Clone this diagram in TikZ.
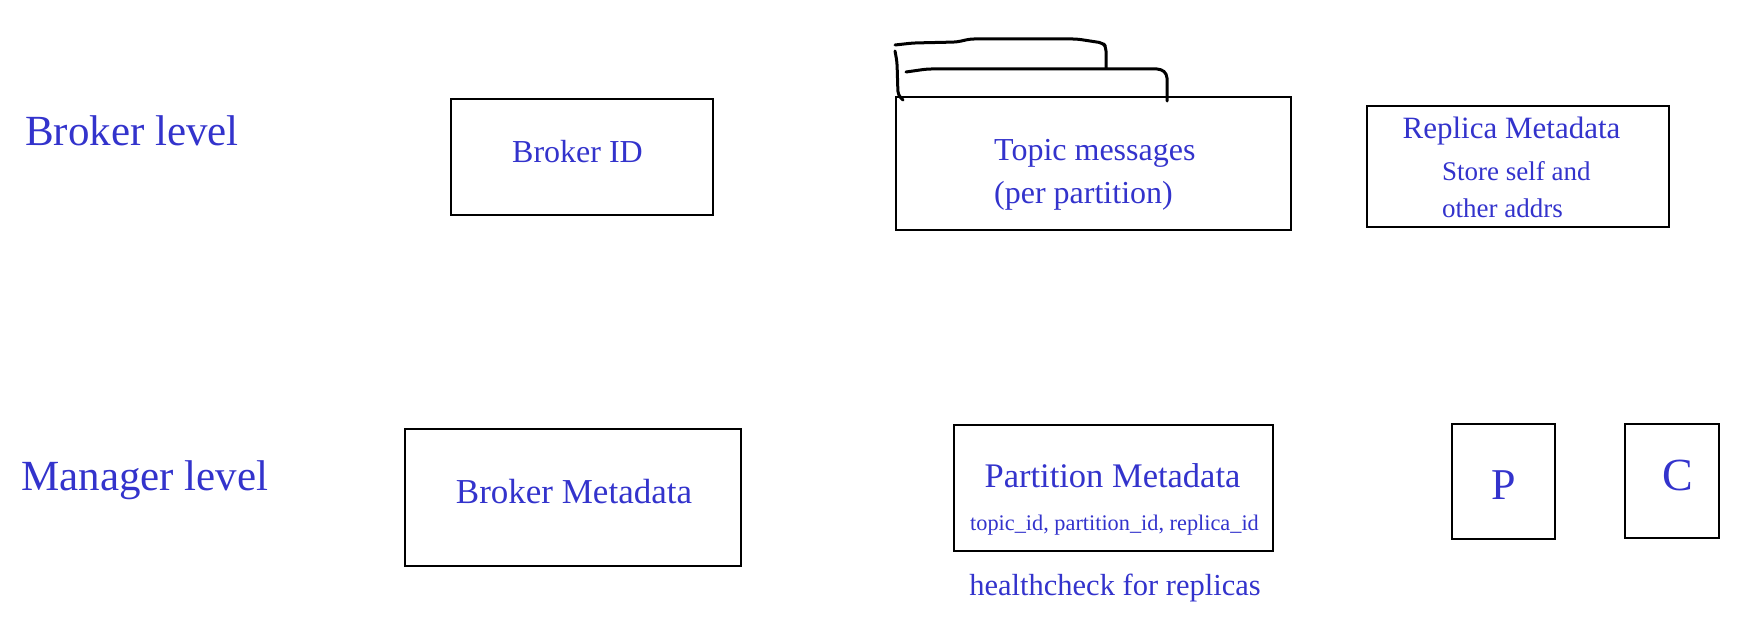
\documentclass[tikz,border=0pt]{standalone}
\usepackage{fontspec}
\setmainfont{Liberation Serif}
\usetikzlibrary{positioning}
\definecolor{penblue}{RGB}{51,51,204}
\tikzset{
    box/.style={draw, line width=2.6pt, inner sep=0}, % plain boxes
    lbl/.style={text=penblue, inner sep=0, font=\fontsize{#1}{#1}\selectfont}, % blue texts
    pen/.style={draw, line width=3pt, line cap=round, line join=round, rounded corners=4pt} % hand-drawn tabs
}

\begin{document}
\begin{tikzpicture}[x=1pt, y=-1pt]
        \useasboundingbox (0,0) rectangle (1761,618);

        % broker level
        \node[lbl=43, anchor=base west] (brokerlevel) at (25,145) {Broker level};
        \node[box, minimum width=262pt, minimum height=116pt] (brokerid) at (582,157) {};
        \node[lbl=32, anchor=base] (brokeridtext) at (577.5,162) {Broker ID};

        \node[box, minimum width=395pt, minimum height=133pt] (topic) at (1093.5,163.5) {};
        \node[lbl=32, anchor=base west] (topictext) at (994,160) {Topic messages};
        \node[lbl=32, anchor=base west] (topictext2) at (994,203) {(per partition)};
        \draw[pen] (895,45) -- (913,43) -- (957,42) -- (970,39) -- (1077,39) -- (1103,43) -- (1106,47) -- (1106,68);
        \draw[pen] (895,51) -- (897,62) -- (898,95) -- (903,100);
        \draw[pen] (906,72) -- (927,69) -- (1161,69) -- (1167,74) -- (1167,101);

        \node[box, minimum width=302pt, minimum height=121pt] (replica) at (1518,166.5) {};
        \node[lbl=31, anchor=base] (replicatext) at (1511.5,138) {Replica Metadata};
        \node[lbl=27, anchor=base west] (replicatext2) at (1442,180) {Store self and};
        \node[lbl=27, anchor=base west] (replicatext3) at (1442,217) {other addrs};

        % manager level
        \node[lbl=43, anchor=base west] (managerlevel) at (21,490) {Manager level};
        \node[box, minimum width=336pt, minimum height=137pt] (brokermeta) at (573,497.5) {};
        \node[lbl=35, anchor=base] (brokermetatext) at (574,503) {Broker Metadata};

        \node[box, minimum width=319pt, minimum height=126pt] (partmeta) at (1113.5,488) {};
        \node[lbl=34.5, anchor=base] (partmetatext) at (1112.5,487) {Partition Metadata};
        \node[lbl=22.3, anchor=base] (partmetatext2) at (1114.5,530) {topic\_id, partition\_id, replica\_id};
        \node[lbl=30.5, anchor=base] (health) at (1115,595) {healthcheck for replicas};

        \node[box, minimum width=103pt, minimum height=115pt] (prod) at (1503.5,481.5) {};
        \node[lbl=44, anchor=base] (prodtext) at (1504,499) {P};
        \node[box, minimum width=94pt, minimum height=114pt] (cons) at (1672,481) {};
        \node[lbl=46, anchor=base] (constext) at (1677.5,490) {C};
      \end{tikzpicture}
\end{document}
